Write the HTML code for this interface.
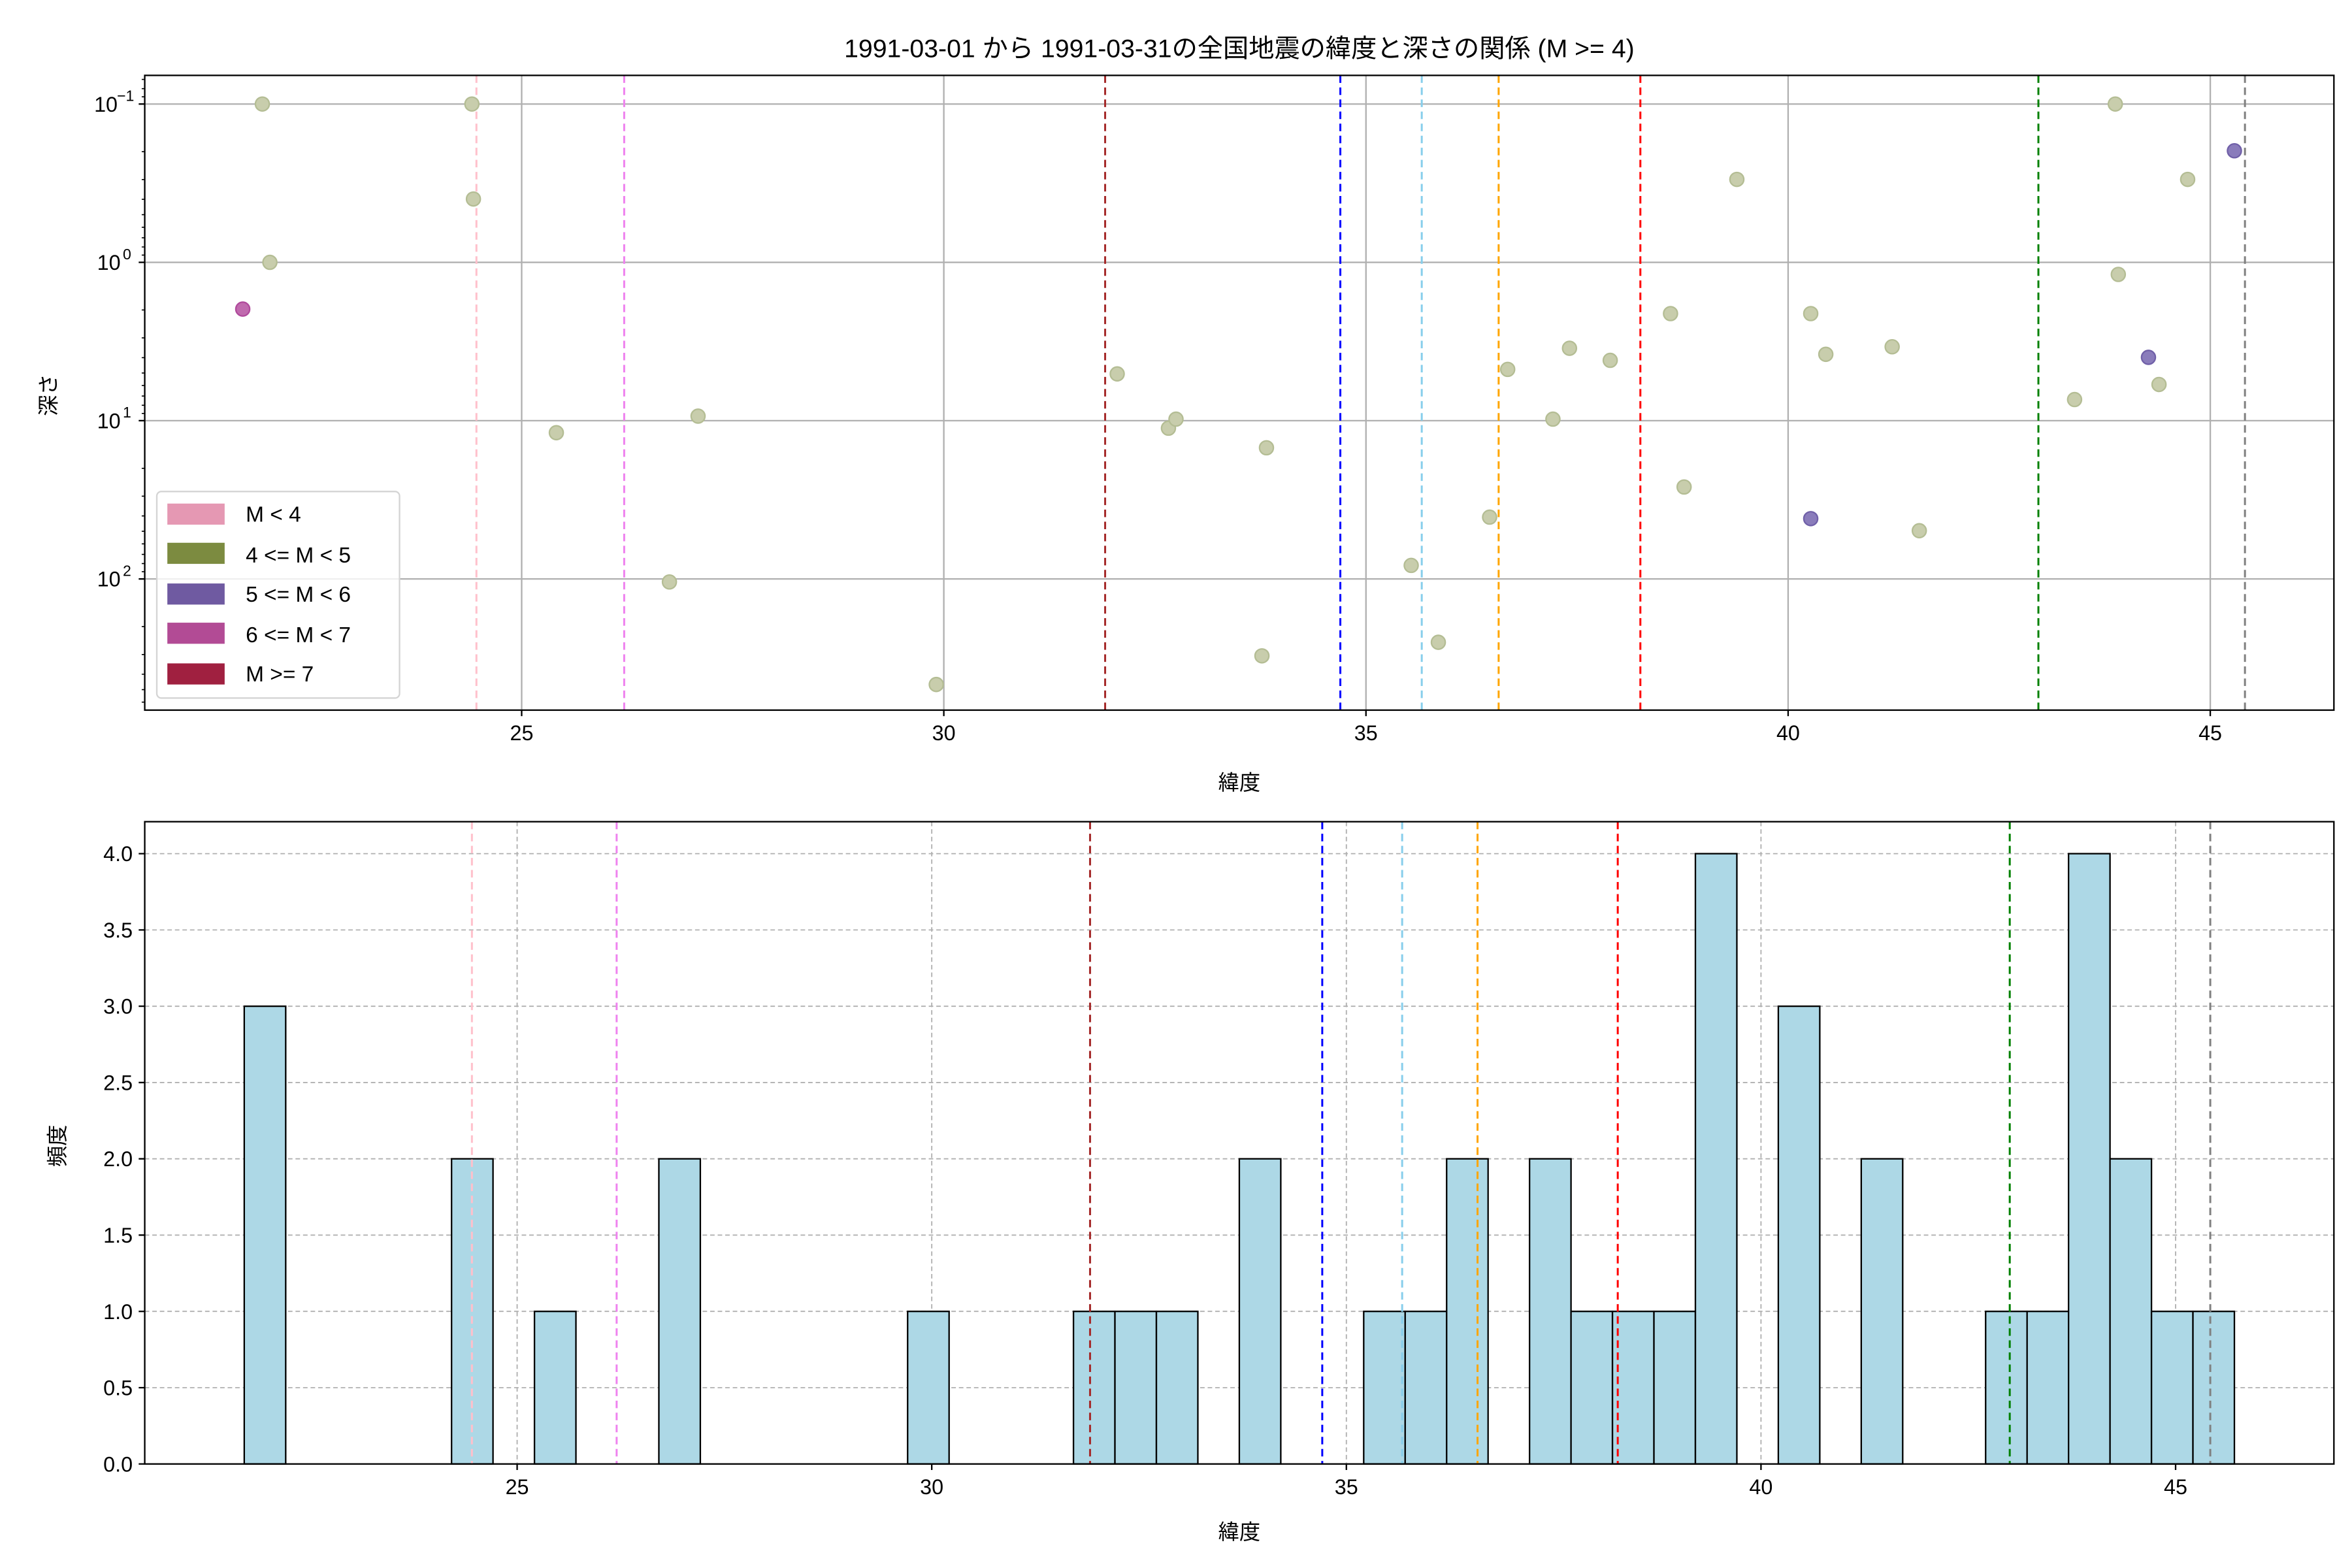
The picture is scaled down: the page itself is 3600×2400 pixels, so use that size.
<!DOCTYPE html>
<html><head><meta charset="utf-8"><style>
html,body{margin:0;padding:0;background:#fff;}
svg{display:block;}
text{font-family:"Liberation Sans","Noto Sans CJK JP",sans-serif;fill:#000;}
</style></head><body>
<svg width="3600" height="2400" viewBox="0 0 1560 1040" xmlns="http://www.w3.org/2000/svg">
<rect width="1560" height="1040" fill="#fff"/>
<text x="822" y="38" font-size="17" text-anchor="middle">1991-03-01 から 1991-03-31の全国地震の緯度と深さの関係 (M &gt;= 4)</text>
<!-- TOP AXES -->
<g stroke="#b0b0b0" stroke-width="1">
<line x1="346" y1="50" x2="346" y2="471"/><line x1="626" y1="50" x2="626" y2="471"/><line x1="906" y1="50" x2="906" y2="471"/><line x1="1186" y1="50" x2="1186" y2="471"/><line x1="1466" y1="50" x2="1466" y2="471"/>
<line x1="96" y1="69" x2="1548" y2="69"/><line x1="96" y1="174" x2="1548" y2="174"/><line x1="96" y1="279" x2="1548" y2="279"/><line x1="96" y1="384" x2="1548" y2="384"/>
</g>
<g stroke-width="1.3" stroke-dasharray="5,3">
<line x1="316" y1="50" x2="316" y2="471" stroke="pink"/>
<line x1="414" y1="50" x2="414" y2="471" stroke="violet"/>
<line x1="733" y1="50" x2="733" y2="471" stroke="brown"/>
<line x1="889" y1="50" x2="889" y2="471" stroke="blue"/>
<line x1="943" y1="50" x2="943" y2="471" stroke="skyblue"/>
<line x1="994" y1="50" x2="994" y2="471" stroke="orange"/>
<line x1="1088" y1="50" x2="1088" y2="471" stroke="red"/>
<line x1="1352" y1="50" x2="1352" y2="471" stroke="green"/>
<line x1="1489" y1="50" x2="1489" y2="471" stroke="gray"/>
</g>
<g fill="#c8cdac" stroke="#b4bd94" stroke-width="1">
<circle cx="174" cy="69" r="4.6"/><circle cx="313" cy="69" r="4.6"/><circle cx="314" cy="132" r="4.6"/><circle cx="179" cy="174" r="4.6"/>
<circle cx="369" cy="287" r="4.6"/><circle cx="463" cy="276" r="4.6"/><circle cx="444" cy="386" r="4.6"/><circle cx="621" cy="454" r="4.6"/>
<circle cx="741" cy="248" r="4.6"/><circle cx="775" cy="284" r="4.6"/><circle cx="780" cy="278" r="4.6"/><circle cx="840" cy="297" r="4.6"/>
<circle cx="837" cy="435" r="4.6"/><circle cx="936" cy="375" r="4.6"/><circle cx="954" cy="426" r="4.6"/><circle cx="988" cy="343" r="4.6"/>
<circle cx="1000" cy="245" r="4.6"/><circle cx="1030" cy="278" r="4.6"/><circle cx="1041" cy="231" r="4.6"/><circle cx="1068" cy="239" r="4.6"/>
<circle cx="1108" cy="208" r="4.6"/><circle cx="1117" cy="323" r="4.6"/><circle cx="1152" cy="119" r="4.6"/><circle cx="1201" cy="208" r="4.6"/>
<circle cx="1211" cy="235" r="4.6"/><circle cx="1255" cy="230" r="4.6"/><circle cx="1273" cy="352" r="4.6"/><circle cx="1376" cy="265" r="4.6"/>
<circle cx="1403" cy="69" r="4.6"/><circle cx="1405" cy="182" r="4.6"/><circle cx="1432" cy="255" r="4.6"/><circle cx="1451" cy="119" r="4.6"/>
</g>
<g fill="#8a7cbb" stroke="#7060a8" stroke-width="1">
<circle cx="1201" cy="344" r="4.6"/><circle cx="1425" cy="237" r="4.6"/><circle cx="1482" cy="100" r="4.6"/>
</g>
<circle cx="161" cy="205" r="4.6" fill="#c06aae" stroke="#b04a9c" stroke-width="1"/>
<!-- legend -->
<rect x="104" y="326" width="161" height="137" rx="3" fill="#fff" fill-opacity="0.8" stroke="#d4d4d4" stroke-width="1"/>
<rect x="111" y="334" width="38" height="14" fill="#e598b3"/>
<rect x="111" y="360" width="38" height="14" fill="#7c8b40"/>
<rect x="111" y="387" width="38" height="14" fill="#6f5aa1"/>
<rect x="111" y="413" width="38" height="14" fill="#b24b95"/>
<rect x="111" y="440" width="38" height="14" fill="#a02040"/>
<g font-size="14.5">
<text x="163" y="346">M &lt; 4</text>
<text x="163" y="373">4 &lt;= M &lt; 5</text>
<text x="163" y="399">5 &lt;= M &lt; 6</text>
<text x="163" y="426">6 &lt;= M &lt; 7</text>
<text x="163" y="452">M &gt;= 7</text>
</g>
<rect x="96" y="50" width="1452" height="421" fill="none" stroke="#000" stroke-width="1"/>
<g stroke="#000" stroke-width="1">
<line x1="346" y1="471" x2="346" y2="475"/><line x1="626" y1="471" x2="626" y2="475"/><line x1="906" y1="471" x2="906" y2="475"/><line x1="1186" y1="471" x2="1186" y2="475"/><line x1="1466" y1="471" x2="1466" y2="475"/>
<line x1="92" y1="69" x2="96" y2="69"/><line x1="92" y1="174" x2="96" y2="174"/><line x1="92" y1="279" x2="96" y2="279"/><line x1="92" y1="384" x2="96" y2="384"/>
</g>
<g stroke="#000" stroke-width="0.7">
<path d="M94 52.7H96M94 58.8H96M94 64.2H96
M94 100.6H96M94 119.1H96M94 132.2H96M94 142.4H96M94 150.7H96M94 157.7H96M94 163.8H96M94 169.2H96
M94 205.6H96M94 224.1H96M94 237.2H96M94 247.4H96M94 255.7H96M94 262.7H96M94 268.8H96M94 274.2H96
M94 310.6H96M94 329.1H96M94 342.2H96M94 352.4H96M94 360.7H96M94 367.7H96M94 373.8H96M94 379.2H96
M94 415.6H96M94 434.1H96M94 447.2H96M94 457.4H96M94 465.7H96"/>
</g>
<g font-size="14" text-anchor="middle">
<text x="346" y="491">25</text><text x="626" y="491">30</text><text x="906" y="491">35</text><text x="1186" y="491">40</text><text x="1466" y="491">45</text>
</g>
<g font-size="14" text-anchor="end">
<text x="78" y="74">10</text><text x="89" y="67" font-size="10">−1</text>
<text x="80" y="179">10</text><text x="87" y="172" font-size="10">0</text>
<text x="80" y="284">10</text><text x="87" y="277" font-size="10">1</text>
<text x="80" y="389">10</text><text x="87" y="382" font-size="10">2</text>
</g>
<text x="822" y="524" font-size="14" text-anchor="middle">緯度</text>
<text transform="translate(37,262) rotate(-90)" font-size="14" text-anchor="middle">深さ</text>

<!-- BOTTOM AXES -->
<g stroke="#b0b0b0" stroke-width="0.8" stroke-dasharray="3,2">
<line x1="343" y1="545" x2="343" y2="971"/><line x1="618" y1="545" x2="618" y2="971"/><line x1="893" y1="545" x2="893" y2="971"/><line x1="1168" y1="545" x2="1168" y2="971"/><line x1="1443" y1="545" x2="1443" y2="971"/>
<line x1="96" y1="920.4" x2="1548" y2="920.4"/><line x1="96" y1="869.8" x2="1548" y2="869.8"/><line x1="96" y1="819.2" x2="1548" y2="819.2"/><line x1="96" y1="768.6" x2="1548" y2="768.6"/><line x1="96" y1="718" x2="1548" y2="718"/><line x1="96" y1="667.4" x2="1548" y2="667.4"/><line x1="96" y1="616.8" x2="1548" y2="616.8"/><line x1="96" y1="566.2" x2="1548" y2="566.2"/>
</g>
<g fill="#add8e6" stroke="#000" stroke-width="1">
<rect x="162" y="667.4" width="27.5" height="303.6"/>
<rect x="299.5" y="768.6" width="27.5" height="202.4"/>
<rect x="354.5" y="869.8" width="27.5" height="101.2"/>
<rect x="437" y="768.6" width="27.5" height="202.4"/>
<rect x="602" y="869.8" width="27.5" height="101.2"/>
<rect x="712" y="869.8" width="27.5" height="101.2"/>
<rect x="739.5" y="869.8" width="27.5" height="101.2"/>
<rect x="767" y="869.8" width="27.5" height="101.2"/>
<rect x="822" y="768.6" width="27.5" height="202.4"/>
<rect x="904.5" y="869.8" width="27.5" height="101.2"/>
<rect x="932" y="869.8" width="27.5" height="101.2"/>
<rect x="959.5" y="768.6" width="27.5" height="202.4"/>
<rect x="1014.5" y="768.6" width="27.5" height="202.4"/>
<rect x="1042" y="869.8" width="27.5" height="101.2"/>
<rect x="1069.5" y="869.8" width="27.5" height="101.2"/>
<rect x="1097" y="869.8" width="27.5" height="101.2"/>
<rect x="1124.5" y="566.2" width="27.5" height="404.8"/>
<rect x="1179.5" y="667.4" width="27.5" height="303.6"/>
<rect x="1234.5" y="768.6" width="27.5" height="202.4"/>
<rect x="1317" y="869.8" width="27.5" height="101.2"/>
<rect x="1344.5" y="869.8" width="27.5" height="101.2"/>
<rect x="1372" y="566.2" width="27.5" height="404.8"/>
<rect x="1399.5" y="768.6" width="27.5" height="202.4"/>
<rect x="1427" y="869.8" width="27.5" height="101.2"/>
<rect x="1454.5" y="869.8" width="27.5" height="101.2"/>
</g>
<g stroke-width="1.3" stroke-dasharray="5,3">
<line x1="313" y1="545" x2="313" y2="971" stroke="pink"/>
<line x1="409" y1="545" x2="409" y2="971" stroke="violet"/>
<line x1="723" y1="545" x2="723" y2="971" stroke="brown"/>
<line x1="877" y1="545" x2="877" y2="971" stroke="blue"/>
<line x1="930" y1="545" x2="930" y2="971" stroke="skyblue"/>
<line x1="980" y1="545" x2="980" y2="971" stroke="orange"/>
<line x1="1073" y1="545" x2="1073" y2="971" stroke="red"/>
<line x1="1333" y1="545" x2="1333" y2="971" stroke="green"/>
<line x1="1466" y1="545" x2="1466" y2="971" stroke="gray"/>
</g>
<rect x="96" y="545" width="1452" height="426" fill="none" stroke="#000" stroke-width="1"/>
<g stroke="#000" stroke-width="1">
<line x1="343" y1="971" x2="343" y2="975"/><line x1="618" y1="971" x2="618" y2="975"/><line x1="893" y1="971" x2="893" y2="975"/><line x1="1168" y1="971" x2="1168" y2="975"/><line x1="1443" y1="971" x2="1443" y2="975"/>
<path d="M92 971H96M92 920.4H96M92 869.8H96M92 819.2H96M92 768.6H96M92 718H96M92 667.4H96M92 616.8H96M92 566.2H96"/>
</g>
<g font-size="14" text-anchor="middle">
<text x="343" y="991">25</text><text x="618" y="991">30</text><text x="893" y="991">35</text><text x="1168" y="991">40</text><text x="1443" y="991">45</text>
</g>
<g font-size="14" text-anchor="end">
<text x="88" y="976">0.0</text><text x="88" y="925.4">0.5</text><text x="88" y="874.8">1.0</text><text x="88" y="824.2">1.5</text><text x="88" y="773.6">2.0</text><text x="88" y="723">2.5</text><text x="88" y="672.4">3.0</text><text x="88" y="621.8">3.5</text><text x="88" y="571.2">4.0</text>
</g>
<text x="822" y="1021" font-size="14" text-anchor="middle">緯度</text>
<text transform="translate(43,760) rotate(-90)" font-size="14" text-anchor="middle">頻度</text>
</svg>
</body></html>
